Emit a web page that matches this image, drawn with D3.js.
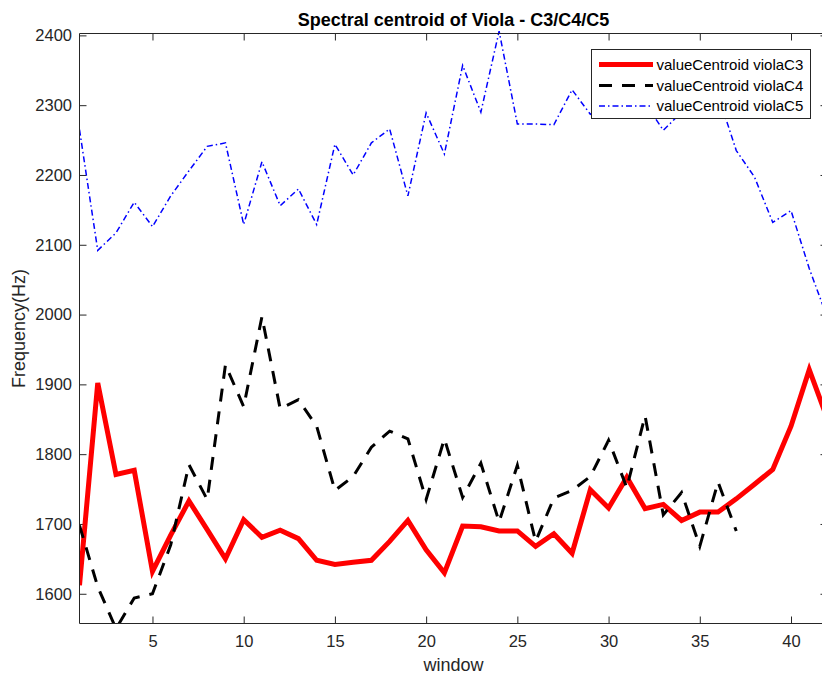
<!DOCTYPE html>
<html>
<head>
<meta charset="utf-8">
<script src="https://cdn.jsdelivr.net/npm/d3@7"></script>
<style>
  html, body { margin: 0; padding: 0; background: #fff; }
  svg { display: block; font-family: "Liberation Sans", Arial, Helvetica, sans-serif; }
</style>
</head>
<body>
<svg id="chart" width="822" height="677"></svg>
<script>
// ---- data ----
const windowsC3 = d3.range(1, 43);
const windowsC4 = d3.range(1, 38);
const windowsC5 = d3.range(1, 43);

const violaC3 = [1612, 1902, 1771, 1777, 1632, 1684, 1733, 1692, 1650, 1706,
                 1681, 1691, 1679, 1648, 1642, 1645, 1648, 1675, 1705, 1663,
                 1630, 1697, 1696, 1690, 1690, 1668, 1686, 1658, 1749, 1723,
                 1767, 1722, 1728, 1705, 1717, 1717, 1736, 1757, 1778, 1840,
                 1921, 1850];
const violaC4 = [1698, 1610, 1550, 1594, 1600, 1670, 1785, 1735, 1928, 1868,
                 1997, 1865, 1878, 1840, 1748, 1768, 1810, 1833, 1822, 1735,
                 1822, 1738, 1787, 1703, 1784, 1675, 1737, 1748, 1768, 1820,
                 1752, 1855, 1713, 1745, 1668, 1760, 1690];
const violaC5 = [2265, 2092, 2117, 2161, 2126, 2170, 2206, 2241, 2246, 2129,
                 2219, 2156, 2180, 2129, 2244, 2200, 2246, 2266, 2170, 2289,
                 2230, 2357, 2290, 2406, 2273, 2273, 2272, 2322, 2287, 2300,
                 2310, 2303, 2264, 2290, 2300, 2315, 2235, 2197, 2132, 2149,
                 2066, 1995];

const xTicks = [5, 10, 15, 20, 25, 30, 35, 40];
const yTicks = [1600, 1700, 1800, 1900, 2000, 2100, 2200, 2300, 2400];
const seriesNames = ["valueCentroid violaC3", "valueCentroid violaC4", "valueCentroid violaC5"];
const titleText = "Spectral centroid of Viola - C3/C4/C5";
const xLabel = "window";
const yLabel = "Frequency(Hz)";

// ---- layout ----
const svg = d3.select("#chart");
const pL = 79.5, pR = 827.5, pT = 33.5, pB = 623.5;
const x = d3.scaleLinear().domain([1, 42]).range([pL, pR]);
const y = d3.scaleLinear().domain([1557.4, 2402.7]).range([pB, pT]);
const axisColor = "#262626";
const tickLen = 7;
const fmt = d3.format("d");

svg.append("defs").append("clipPath").attr("id", "clip")
  .append("rect").attr("x", pL).attr("y", pT - 3).attr("width", pR - pL).attr("height", pB - pT + 3);

// axes via d3 axis generators
const xAxisB = d3.axisBottom(x).tickValues(xTicks).tickFormat(fmt).tickSizeInner(-tickLen).tickSizeOuter(0).tickPadding(12);
const xAxisT = d3.axisTop(x).tickValues(xTicks).tickSizeInner(-tickLen).tickSizeOuter(0).tickFormat("");
const yAxisL = d3.axisLeft(y).tickValues(yTicks).tickFormat(fmt).tickSizeInner(-tickLen).tickSizeOuter(0).tickPadding(7.5);
const yAxisR = d3.axisRight(y).tickValues(yTicks).tickSizeInner(-tickLen).tickSizeOuter(0).tickFormat("");

function styleAxis(g) {
  g.select(".domain").remove();
  g.selectAll(".tick line").attr("stroke", axisColor).attr("stroke-width", 1);
  g.selectAll(".tick text").attr("fill", axisColor).style("font-size", "16.5px")
    .style("font-family", '"Liberation Sans", Arial, sans-serif');
}
svg.append("g").attr("transform", `translate(0,${pB})`).call(xAxisB).call(styleAxis);
svg.append("g").attr("transform", `translate(0,${pT})`).call(xAxisT).call(styleAxis);
svg.append("g").attr("transform", `translate(${pL},0)`).call(yAxisL).call(styleAxis);
svg.append("g").attr("transform", `translate(${pR},0)`).call(yAxisR).call(styleAxis);

// data lines
const plot = svg.append("g").attr("clip-path", "url(#clip)");
function lineFor(xs) {
  return d3.line().x((d, i) => x(xs[i])).y(d => y(d));
}
const styles = [
  { color: "#ff0000", width: 5, dash: null },
  { color: "#000000", width: 3, dash: "13,10" },
  { color: "#0000ff", width: 1.5, dash: "6,3,1.5,3" }
];
const seriesData = [[violaC3, windowsC3], [violaC4, windowsC4], [violaC5, windowsC5]];
seriesData.forEach(([vals, xs], k) => {
  plot.append("path")
    .attr("d", lineFor(xs)(vals))
    .attr("fill", "none")
    .attr("stroke", styles[k].color)
    .attr("stroke-width", styles[k].width)
    .attr("stroke-linejoin", "miter")
    .attr("stroke-dasharray", styles[k].dash);
});

// box lines
svg.append("path")
  .attr("d", `M${pL},${pT}H${pR}V${pB}H${pL}Z`)
  .attr("fill", "none").attr("stroke", axisColor).attr("stroke-width", 1);

// title & labels
svg.append("text").attr("x", (pL + pR) / 2).attr("y", 26)
  .attr("text-anchor", "middle").style("font-weight", "bold").style("font-size", "18px")
  .attr("fill", "#000").text(titleText);
svg.append("text").attr("x", (pL + pR) / 2).attr("y", 671)
  .attr("text-anchor", "middle").style("font-size", "18px")
  .attr("fill", axisColor).text(xLabel);
svg.append("text").attr("transform", `translate(25,${(pT + pB) / 2}) rotate(-90)`)
  .attr("text-anchor", "middle").style("font-size", "18px")
  .attr("fill", axisColor).text(yLabel);

// legend
const lg = svg.append("g");
lg.append("rect").attr("x", 591.5).attr("y", 49.5).attr("width", 219).attr("height", 69)
  .attr("fill", "#fff").attr("stroke", axisColor).attr("stroke-width", 1);
const rowY = [64.5, 85.5, 106];
seriesNames.forEach((name, k) => {
  lg.append("line").attr("x1", 599).attr("x2", 653).attr("y1", rowY[k]).attr("y2", rowY[k])
    .attr("stroke", styles[k].color).attr("stroke-width", styles[k].width)
    .attr("stroke-dasharray", styles[k].dash);
  lg.append("text").attr("x", 656.5).attr("y", rowY[k]).attr("dy", "0.35em")
    .style("font-size", "15px").attr("fill", "#000").text(name);
});
</script>
</body>
</html>
